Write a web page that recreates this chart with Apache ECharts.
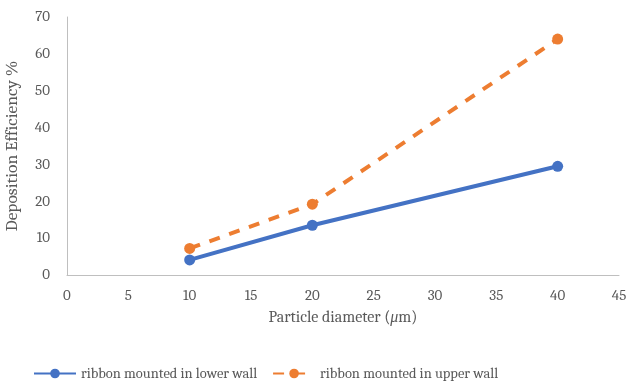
<!DOCTYPE html>
<html><head><meta charset="utf-8">
<script src="https://cdn.jsdelivr.net/npm/echarts@6/dist/echarts.min.js"></script>
<style>html,body{margin:0;padding:0;background:#fff}#c{width:630px;height:383px}</style>
</head><body><div id="c"></div>
<script>
const diameters = [10, 20, 40];
const lowerWall = [4.1, 13.5, 29.5];
const upperWall = [7.2, 19.2, 64];
const seriesNames = ['ribbon mounted in lower wall', 'ribbon mounted in upper wall'];

const font = 'Cambria, "Liberation Serif", "DejaVu Serif", serif';
const grey = '#595959';
const chart = echarts.init(document.getElementById('c'));
chart.setOption({
  animation: false,
  textStyle: {fontFamily: font},
  grid: {left: 67, right: 11, top: 17, bottom: 108, outerBoundsMode: 'none', containLabel: false},
  legend: {
    top: 366, left: 33, padding: 0, itemWidth: 42, itemHeight: 12, itemGap: 15,
    textStyle: {fontFamily: font, fontSize: 14.5, color: grey},
    data: seriesNames
  },
  xAxis: {
    type: 'value', min: 0, max: 45, interval: 5,
    name: '{n|Particle diameter (}{i|μ}{n|m)}', nameLocation: 'middle', nameGap: 34,
    nameTextStyle: {rich: {n: {fontFamily: font, fontSize: 16, color: grey}, i: {fontFamily: font, fontSize: 16, color: grey, fontStyle: 'italic'}}},
    axisLine: {lineStyle: {color: '#bfbfbf', width: 1}},
    axisTick: {show: false}, splitLine: {show: false},
    axisLabel: {fontFamily: font, fontSize: 15, color: grey, margin: 13}
  },
  yAxis: {
    type: 'value', min: 0, max: 70, interval: 10,
    name: 'Deposition Efficiency %', nameLocation: 'middle', nameGap: 46,
    nameTextStyle: {fontFamily: font, fontSize: 17.5, color: grey},
    axisLine: {show: true, lineStyle: {color: '#bfbfbf', width: 1}},
    axisTick: {show: false}, splitLine: {show: false},
    axisLabel: {fontFamily: font, fontSize: 15, color: grey, margin: 17}
  },
  series: [
    {name: seriesNames[0], type: 'line', data: diameters.map((d, i) => [d, lowerWall[i]]),
     symbol: 'circle', symbolSize: 11, itemStyle: {color: '#4472c4'},
     lineStyle: {color: '#4472c4', width: 4}},
    {name: seriesNames[1], type: 'line', data: diameters.map((d, i) => [d, upperWall[i]]),
     symbol: 'circle', symbolSize: 11, itemStyle: {color: '#ed7d31'},
     lineStyle: {color: '#ed7d31', width: 4, type: [11, 10]}}
  ]
});
</script></body></html>
